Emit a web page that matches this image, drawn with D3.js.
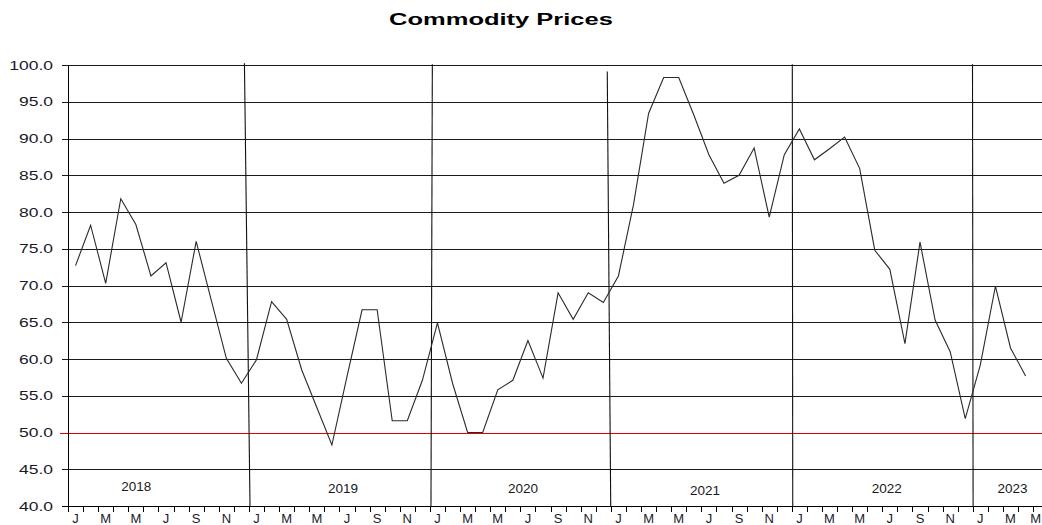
<!DOCTYPE html>
<html>
<head>
<meta charset="utf-8">
<script src="https://cdn.jsdelivr.net/npm/d3@7"></script>
<style>
  html, body { margin: 0; padding: 0; background: #fff; }
  svg { display: block; font-family: "Liberation Sans", Arial, sans-serif; }
</style>
</head>
<body>
<svg id="chart" width="1042" height="525"></svg>
<script>
// ---------- data ----------
const title = "Commodity Prices";
// monthly values Jan 2018 .. Apr 2023
const values2018 = [72.7, 78.2, 70.3, 81.8, 78.3, 71.3, 73.1, 65.0, 76.0, 68.0, 60.1, 56.7];
const values2019 = [59.9, 67.8, 65.4, 58.5, 53.4, 48.3, 57.6, 66.7, 66.7, 51.6, 51.6, 57.1];
const values2020 = [64.9, 56.7, 50.0, 50.0, 55.8, 57.1, 62.5, 57.4, 69.0, 65.4, 69.0, 67.7];
const values2021 = [71.3, 81.0, 93.4, 98.3, 98.3, 93.2, 87.8, 83.9, 85.0, 88.7, 79.3, 87.8];
const values2022 = [91.3, 87.1, 88.6, 90.2, 85.9, 74.8, 72.2, 62.1, 75.9, 65.3, 61.0, 51.9];
const values2023 = [59.2, 69.9, 61.5, 57.7];
const monthLetters = ["J","F","M","A","M","J","J","A","S","O","N","D"];
const yTicks = [40, 45, 50, 55, 60, 65, 70, 75, 80, 85, 90, 95, 100];
const referenceLevel = 50;
const monthCount = 65;             // x-axis span in months
// year separators (month units at top/bottom, value at top) - hand drawn in original
const sepTopMonth    = [11.70, 24.16, 35.76, 48.03, 59.98];
const sepBottomMonth = [12.07, 24.07, 35.99, 48.06, 60.02];
const sepTopValue    = [100.25, 100.1, 99.1, 100.1, 100.1];
// year labels (anchored in data coordinates)
const yearLabels     = ["2018", "2019", "2020", "2021", "2022", "2023"];
const yearLabelMonth = [4.53, 18.24, 30.17, 42.24, 54.29, 62.63];
const yearLabelValue = [42.08, 41.77, 41.8, 41.5, 41.77, 41.77];

const series = [].concat(values2018, values2019, values2020, values2021, values2022, values2023)
  .map((v, i) => ({ m: i, v }));

// ---------- layout ----------
const svg = d3.select("#chart");
const padL = 68, padT = 65, baseY = 506, monthW = 15.08;
const W = 1042;
const x = d3.scaleLinear().domain([0, monthCount]).range([padL, padL + monthCount * monthW]);
const y = d3.scaleLinear().domain([40, 100]).range([baseY, padT]);

function stretchedText(g, tx, ty, sx, txt) {
  return g.append("text")
    .attr("transform", `translate(${tx},${ty}) scale(${sx},1)`)
    .text(txt);
}

// title
stretchedText(svg, 501, 25, 1.5, title)
  .attr("text-anchor", "middle")
  .attr("font-weight", "bold")
  .attr("font-size", 17)
  .attr("fill", "#000");

// horizontal grid
svg.append("g").selectAll("line")
  .data(yTicks.filter(t => t !== 40 && t !== referenceLevel))
  .join("line")
  .attr("x1", padL - 6).attr("x2", W)
  .attr("y1", d => Math.round(y(d)) + 0.5)
  .attr("y2", d => Math.round(y(d)) + 0.5)
  .attr("stroke", "#1a1a1a").attr("stroke-width", 1);

// reference line (red)
svg.append("line")
  .attr("x1", padL - 8).attr("x2", W)
  .attr("y1", Math.round(y(referenceLevel)) + 0.5)
  .attr("y2", Math.round(y(referenceLevel)) + 0.5)
  .attr("stroke", "#e00000").attr("stroke-width", 1);

// y tick labels
const yl = svg.append("g")
  .attr("font-size", 12.5).attr("fill", "#1a1a2a");
yTicks.forEach(t => {
  stretchedText(yl, 53, y(t) + 4.5, 1.4, d3.format(".1f")(t))
    .attr("text-anchor", "end");
});

// axes
svg.append("line")
  .attr("x1", padL + 0.5).attr("x2", padL + 0.5)
  .attr("y1", padT).attr("y2", baseY + 5)
  .attr("stroke", "#000");
svg.append("line")
  .attr("x1", padL - 6).attr("x2", W)
  .attr("y1", baseY + 0.5).attr("y2", baseY + 0.5)
  .attr("stroke", "#000");

// month ticks
svg.append("g").selectAll("line")
  .data(d3.range(0, monthCount + 1))
  .join("line")
  .attr("x1", d => Math.round(x(d)) + 0.5)
  .attr("x2", d => Math.round(x(d)) + 0.5)
  .attr("y1", baseY).attr("y2", baseY + 6)
  .attr("stroke", "#000");

// month labels (every other month); keep the last one inside the frame
svg.append("g")
  .attr("font-size", 13).attr("fill", "#1a1a2a")
  .selectAll("text")
  .data(d3.range(0, monthCount, 2))
  .join("text")
  .attr("text-anchor", d => x(d + 0.5) + 7 > W ? "end" : "middle")
  .attr("x", d => x(d + 0.5) + 7 > W ? W - 1 : x(d + 0.5))
  .attr("y", 523)
  .text(d => monthLetters[d % 12]);

// year separators
svg.append("g").selectAll("line")
  .data(sepTopMonth.map((t, i) => ({ t, b: sepBottomMonth[i], v: sepTopValue[i] })))
  .join("line")
  .attr("x1", d => x(d.t)).attr("x2", d => x(d.b))
  .attr("y1", d => y(d.v)).attr("y2", baseY)
  .attr("stroke", "#111").attr("stroke-width", 1.1);

// year labels
svg.append("g")
  .attr("font-size", 13.5).attr("fill", "#1a1a1a").attr("text-anchor", "middle")
  .selectAll("text")
  .data(yearLabels.map((t, i) => ({ t, m: yearLabelMonth[i], v: yearLabelValue[i] })))
  .join("text")
  .attr("x", d => x(d.m))
  .attr("y", d => y(d.v))
  .text(d => d.t);

// data line
const line = d3.line().x(d => x(d.m + 0.5)).y(d => y(d.v));
svg.append("path")
  .datum(series)
  .attr("d", line)
  .attr("fill", "none")
  .attr("stroke", "#2a2a2a")
  .attr("stroke-width", 1.1)
  .attr("stroke-linejoin", "miter");
</script>
</body>
</html>
